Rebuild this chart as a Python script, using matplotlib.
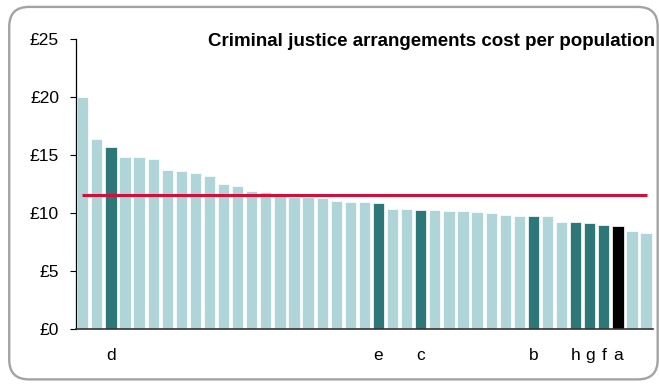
import numpy as np
import matplotlib.pyplot as plt
from matplotlib.patches import FancyBboxPatch

plt.rcParams['font.family'] = ['Liberation Sans', 'DejaVu Sans']

# cost per population, sorted high to low (41 areas)
costs = [20.0, 16.4, 15.7, 14.8, 14.8, 14.6, 13.7, 13.65, 13.4, 13.2,
         12.5, 12.3, 11.85, 11.8, 11.45, 11.4, 11.35, 11.25, 11.05, 10.98,
         10.92, 10.86, 10.37, 10.34, 10.29, 10.23, 10.2, 10.17, 10.11, 10.03,
         9.83, 9.77, 9.74, 9.72, 9.22, 9.2, 9.17, 8.94, 8.88, 8.48, 8.28]

# labelled areas: index -> letter
labelled = {2: 'd', 21: 'e', 24: 'c', 32: 'b', 35: 'h', 36: 'g', 37: 'f', 38: 'a'}
main_area = 'a'
average = 11.5

light = '#afd5d8'
dark = '#2e7778'

colors = []
for i in range(len(costs)):
    if i in labelled:
        colors.append('black' if labelled[i] == main_area else dark)
    else:
        colors.append(light)

fig = plt.figure(figsize=(6.59, 3.84), dpi=100)
# rounded frame round the chart
frame = FancyBboxPatch((0.014, 0.012), 0.984, 0.97, boxstyle='round,pad=0,rounding_size=0.03',
                       transform=fig.transFigure, facecolor='none', edgecolor='#a3a3a3',
                       linewidth=1.7, mutation_aspect=659 / 384, zorder=-1)
fig.patches.append(frame)

ax = fig.add_axes([0.1149, 0.1432, 0.8762, 0.756])
ax.patch.set_alpha(0)
x = np.arange(len(costs))
ax.bar(x, costs, width=0.8, color=colors, edgecolor='white', linewidth=0.5, zorder=2)
ax.hlines(average, -0.07, 40.05, color='#d0103a', linewidth=2.2, zorder=3)

ax.set_xlim(-0.5, len(costs) - 0.5)
ax.set_ylim(0, 25)
ax.set_yticks([0, 5, 10, 15, 20, 25])
ax.set_yticklabels(['£0', '£5', '£10', '£15', '£20', '£25'], fontsize=12.5)
ax.tick_params(axis='y', length=4.5, width=0.8, pad=7.5)

ax.set_xticks(list(labelled.keys()))
ax.set_xticklabels(list(labelled.values()), fontsize=12.5)
ax.tick_params(axis='x', length=0, pad=14)

for s in ['top', 'right']:
    ax.spines[s].set_visible(False)
ax.spines['left'].set_linewidth(0.9)
ax.spines['bottom'].set_linewidth(1.2)
ax.spines['bottom'].set_color('#333333')

fig.text(655 / 659, 1 - 42 / 384, 'Criminal justice arrangements cost per population',
         ha='right', va='center', fontsize=13.5, fontweight='bold')

fig.savefig('out.png', dpi=100)
